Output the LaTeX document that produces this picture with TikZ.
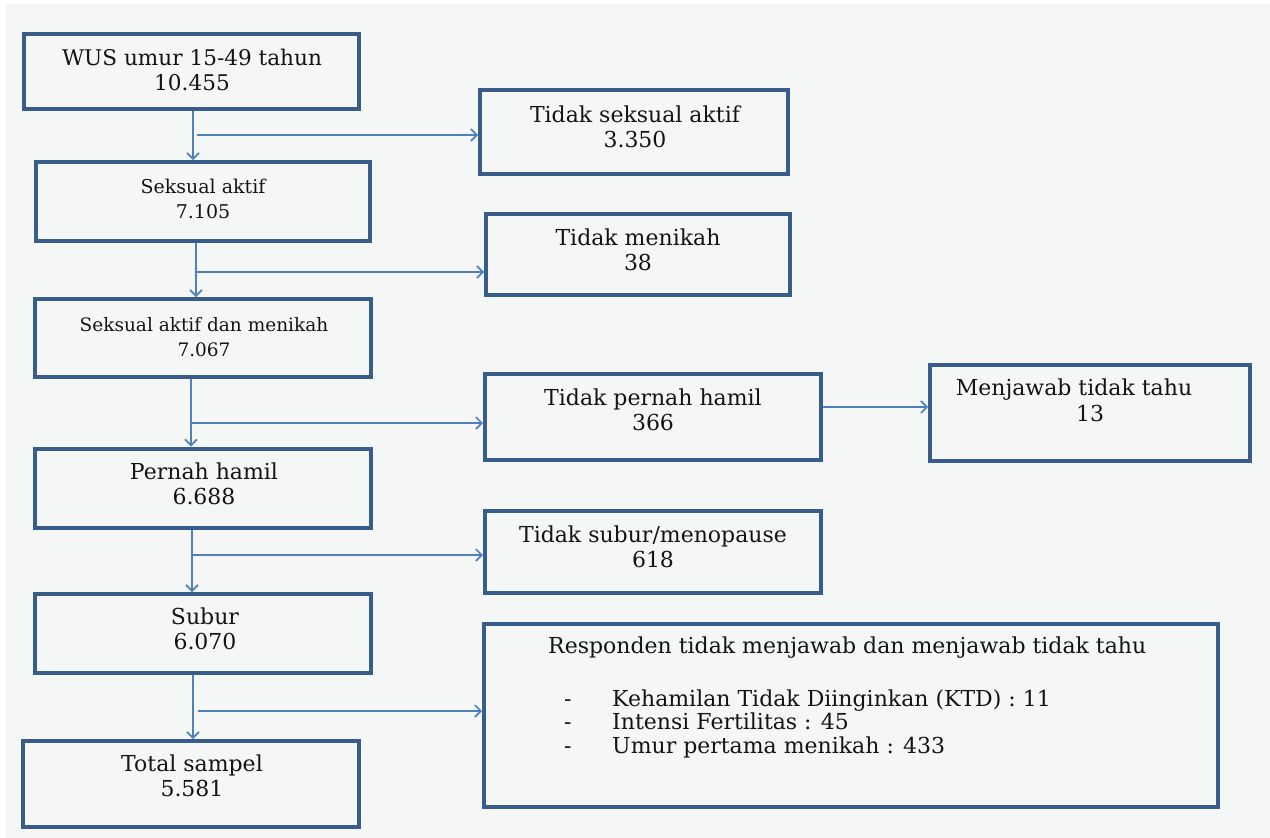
\documentclass[tikz,border=0pt]{standalone}
\usepackage{fontspec}
\setmainfont{DejaVu Serif}
\usetikzlibrary{arrows.meta}
\definecolor{boxblue}{HTML}{385D8A}
\definecolor{arrblue}{HTML}{4F81BD}
\definecolor{bg}{HTML}{F5F7F7}
\tikzset{
  box/.style={draw=boxblue, line width=4pt, rectangle, inner sep=0pt, minimum width=#1},
  box/.default=330pt,
  txt/.style={align=center, inner sep=0pt, font=\fontsize{22}{25}\selectfont, text=black!92},
  stxt/.style={align=center, inner sep=0pt, font=\fontsize{18.5}{25}\selectfont, text=black!92},
  arr/.style={draw=arrblue, line width=1.6pt, -{Straight Barb[length=6pt,width=12pt,line width=1.6pt]}}
}
\begin{document}
\begin{tikzpicture}[x=1pt,y=-1pt]
\useasboundingbox (0,0) rectangle (1270,838);
\fill[white] (0,0) rectangle (1270,838);
\fill[bg] (6,4) rectangle (1270,838);
% boxes
\node[box=335pt, minimum height=75pt] (wus) at (191.5,71.5) {};
\node[box=334pt, minimum height=79pt] (sa) at (203,201.5) {};
\node[box=308pt, minimum height=84pt] (tsa) at (634,132) {};
\node[box=304pt, minimum height=81pt] (tm) at (638,254.5) {};
\node[box=336pt, minimum height=78pt] (sadm) at (203,338) {};
\node[box=336pt, minimum height=79pt] (ph) at (203,488) {};
\node[box=336pt, minimum height=86pt] (tph) at (653,417) {};
\node[box=320pt, minimum height=96pt] (mtt) at (1090,413) {};
\node[box=336pt, minimum height=82pt] (tsm) at (653,552) {};
\node[box=336pt, minimum height=79pt] (sub) at (203,633.5) {};
\node[box=336pt, minimum height=86pt] (tot) at (191,784) {};
\node[box=734pt, minimum height=183pt] (resp) at (851,715.5) {};
% texts
\node[txt, font=\fontsize{21.6}{25}\selectfont] (t1) at (192,70) {WUS umur 15-49 tahun\\10.455};
\node[txt] (t2) at (635,127) {Tidak seksual aktif\\3.350};
\node[stxt, font=\fontsize{19}{25}\selectfont] (t3) at (203,199) {Seksual aktif\\7.105};
\node[txt] (t4) at (638,250) {Tidak menikah\\38};
\node[stxt] (t5) at (204,337) {Seksual aktif dan menikah\\7.067};
\node[txt] (t6) at (653,410) {Tidak pernah hamil\\366};
\node[txt] (t7a) at (1074,390) {Menjawab tidak tahu};
\node[txt] (t7b) at (1090,413) {13};
\node[txt] (t8) at (204,484) {Pernah hamil\\6.688};
\node[txt] (t9) at (653,547) {Tidak subur/menopause\\618};
\node[txt] (t10) at (205,629) {Subur\\6.070};
\node[txt] (t11) at (192,776) {Total sampel\\5.581};
\node[txt, anchor=west] (r0) at (548,648) {\strut Responden tidak menjawab dan menjawab tidak tahu};
\node[txt, anchor=west] (d1) at (564,701) {\strut -};
\node[txt, anchor=west] (d2) at (564,724) {\strut -};
\node[txt, anchor=west] (d3) at (564,748) {\strut -};
\node[txt, anchor=west] (r1) at (612,701) {\strut Kehamilan Tidak Diinginkan (KTD) : 11};
\node[txt, anchor=west] (r2) at (612,724) {\strut Intensi Fertilitas : 45};
\node[txt, anchor=west] (r3) at (612,748) {\strut Umur pertama menikah : 433};
% connectors
\coordinate (b1) at (197,135);
\coordinate (b2) at (196,272);
\coordinate (b3) at (191,423);
\coordinate (b4) at (193,555);
\coordinate (b5) at (198,711);
\draw[arr] (wus.south -| 193,0) -- (sa.north -| 193,0);
\draw[arr] (b1) -- (tsa.west |- b1);
\draw[arr] (sa.south -| 196,0) -- (sadm.north -| 196,0);
\draw[arr] (b2) -- (tm.west |- b2);
\draw[arr] (sadm.south -| 191,0) -- (ph.north -| 191,0);
\draw[arr] (b3) -- (tph.west |- b3);
\draw[arr] (tph.east |- 0,407) -- (mtt.west |- 0,407);
\draw[arr] (ph.south -| 192,0) -- (sub.north -| 192,0);
\draw[arr] (b4) -- (tsm.west |- b4);
\draw[arr] (sub.south -| 193,0) -- (tot.north -| 193,0);
\draw[arr] (b5) -- (resp.west |- b5);
\end{tikzpicture}
\end{document}
